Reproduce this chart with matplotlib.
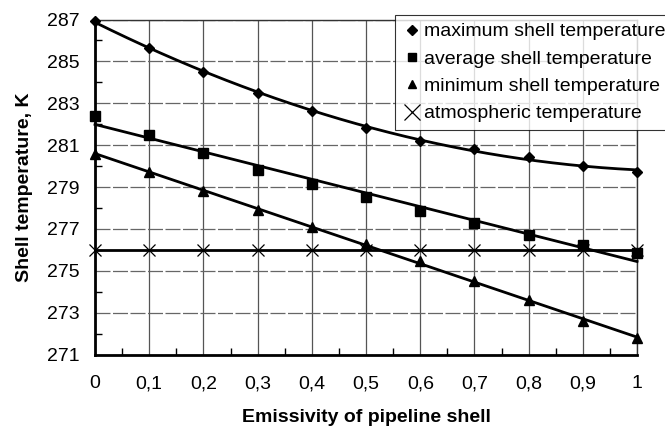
import numpy as np
import matplotlib
matplotlib.use("Agg")
import matplotlib.pyplot as plt
from matplotlib.ticker import MultipleLocator, FixedLocator

emissivity = [0, 0.1, 0.2, 0.3, 0.4, 0.5, 0.6, 0.7, 0.8, 0.9, 1.0]
t_max = [286.93, 285.62, 284.51, 283.50, 282.63, 281.83, 281.20, 280.82, 280.45, 280.02, 279.70]
t_avg = [282.41, 281.50, 280.61, 279.81, 279.13, 278.50, 277.85, 277.30, 276.72, 276.21, 275.83]
t_min = [280.60, 279.70, 278.79, 277.92, 277.10, 276.26, 275.48, 274.50, 273.60, 272.60, 271.80]
t_atm = [276.0] * 11
x_ticklabels = ["0", "0,1", "0,2", "0,3", "0,4", "0,5", "0,6", "0,7", "0,8", "0,9", "1"]
y_ticks = [271, 273, 275, 277, 279, 281, 283, 285, 287]

plt.rcParams['font.family'] = ['Liberation Sans', 'DejaVu Sans']

fig = plt.figure(figsize=(6.65, 4.28), dpi=100)
ax = fig.add_axes([0.1429, 0.1717, 0.958 - 0.1429, 0.9544 - 0.1717])

x = np.array(emissivity)
xs = np.linspace(0, 1, 200)
# trend lines
p_max = np.polyfit(x, t_max, 2)
p_avg = np.polyfit(x, t_avg, 1)
p_min = np.polyfit(x, t_min, 1)
ax.plot(xs, np.polyval(p_max, xs), color='black', lw=2, zorder=3, clip_on=False)
ax.plot(xs, np.polyval(p_avg, xs), color='black', lw=2, zorder=3, clip_on=False)
ax.plot(xs, np.polyval(p_min, xs), color='black', lw=2, zorder=3, clip_on=False)
ax.plot(x, t_atm, color='black', lw=2, zorder=3, clip_on=False)

ax.plot(x, t_max, linestyle='none', marker='D', ms=5.5, color='black', zorder=4, clip_on=False,
        label='maximum shell temperature')
ax.plot(x, t_avg, linestyle='none', marker='s', ms=6.5, color='black', zorder=4, clip_on=False,
        label='average shell temperature')
ax.plot(x, t_min, linestyle='none', marker='^', ms=6.5, color='black', zorder=4, clip_on=False,
        label='minimum shell temperature')
ax.plot(x, t_atm, linestyle='none', marker='x', ms=9, mew=0.9, color='black', zorder=4, clip_on=False,
        label='atmospheric temperature')

ax.set_xlim(0, 1)
ax.set_ylim(271, 287)
ax.xaxis.set_major_locator(FixedLocator(emissivity))
ax.set_xticklabels(x_ticklabels)
ax.set_yticks(y_ticks)
ax.xaxis.set_minor_locator(MultipleLocator(0.05))
ax.yaxis.set_minor_locator(MultipleLocator(1))
ax.tick_params(axis='both', which='major', length=0, labelsize=14, colors='black')
ax.tick_params(axis='x', which='major', pad=15)
ax.tick_params(axis='y', which='major', pad=11)
ax.tick_params(axis='both', which='minor', direction='in', length=5, width=1)
ax.tick_params(axis='y', which='minor', left=True)

ax.grid(True, axis='x', which='major', color='#555555', lw=0.9)
ax.grid(True, axis='y', which='major', color='#666666', lw=0.9, linestyle=(0, (12, 2)))
ax.set_axisbelow(True)

for s in ['left', 'bottom']:
    ax.spines[s].set_linewidth(2)
    ax.spines[s].set_color('black')
for s in ['top', 'right']:
    ax.spines[s].set_linewidth(1)
    ax.spines[s].set_color('#333333')

ax.set_xlabel('Emissivity of pipeline shell', fontsize=14, fontweight='bold', labelpad=12)
ax.set_ylabel('Shell temperature, K', fontsize=14, fontweight='bold', labelpad=10)

leg = fig.legend(loc='upper left', bbox_to_anchor=(395 / 665, 1 - 15 / 428),
                 frameon=True, fancybox=False, edgecolor='black', fontsize=14,
                 handlelength=0.9, handletextpad=0.2, borderpad=0.4, labelspacing=0.5,
                 borderaxespad=0)
leg.get_frame().set_linewidth(0.8)
for h, ms in zip(leg.legend_handles, [5, 6, 6, 11]):
    h.set_markersize(ms)

fig.savefig('out.png', dpi=100)
